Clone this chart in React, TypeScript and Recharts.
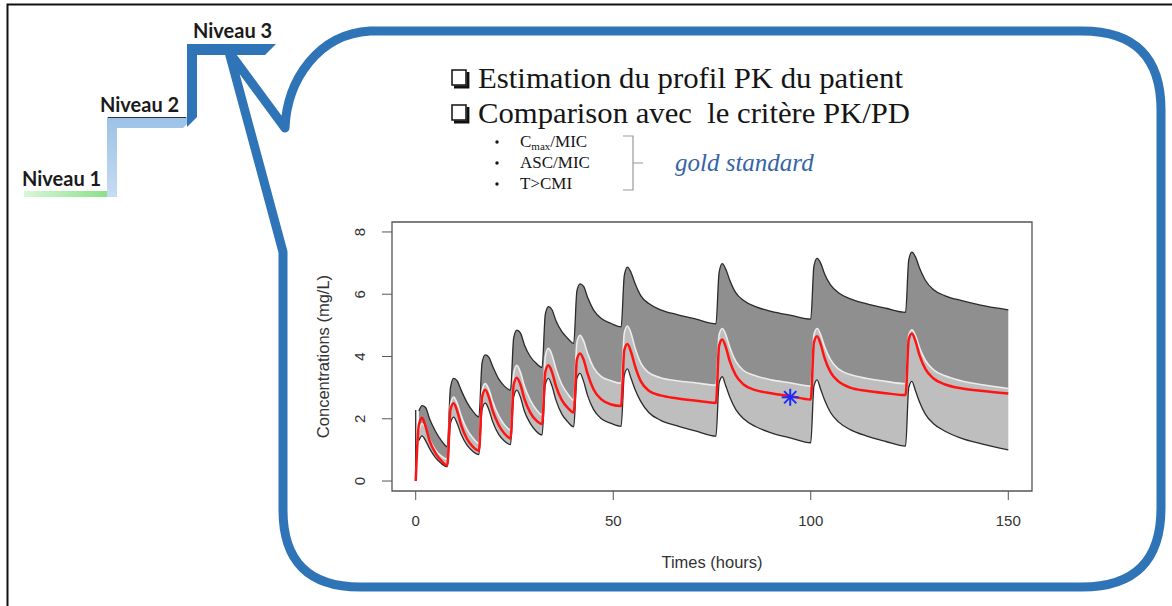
import React from 'react'
import { Area, ComposedChart, Line, ReferenceArea, Scatter, XAxis, YAxis } from 'recharts'

// sampling times (hours): doses at 0, 8, 16, 24, 32, 40, 52, 76, 100, 124
const times = [
  0, 0.8, 1.6, 2.5, 3.5, 5, 6.5,
  8, 8.8, 9.6, 10.5, 11.5, 13, 14.5,
  16, 16.8, 17.6, 18.5, 19.5, 21, 22.5,
  24, 24.8, 25.6, 26.5, 27.5, 29, 30.5,
  32, 32.8, 33.6, 34.5, 35.5, 37, 38.5,
  40, 40.8, 41.6, 42.5, 43.5, 45, 47, 49.5,
  52, 52.8, 53.6, 54.5, 55.5, 57, 59, 62, 66, 71,
  76, 76.8, 77.6, 78.5, 79.5, 81, 83, 86, 90, 95,
  100, 100.8, 101.6, 102.5, 103.5, 105, 107, 110, 114, 119,
  124, 124.8, 125.6, 126.5, 127.5, 129, 131, 134, 138, 143, 150,
]

const upperBound = [
  null, 2.25, 2.42, 2.36, 2.0, 1.6, 1.3,
  1.1, 3.0, 3.3, 3.22, 2.92, 2.52, 2.24,
  2.06, 3.8, 4.05, 3.98, 3.68, 3.28, 3.04,
  2.92, 4.6, 4.85, 4.76, 4.38, 4.0, 3.78,
  3.65, 5.35, 5.6, 5.5, 5.15, 4.8, 4.58,
  4.42, 6.1, 6.33, 6.25, 5.9, 5.5, 5.22, 5.06,
  4.95, 6.6, 6.87, 6.7, 6.35, 5.95, 5.7, 5.5, 5.35, 5.2,
  5.05, 6.7, 6.98, 6.8, 6.45, 6.05, 5.8, 5.6, 5.45, 5.32,
  5.2, 6.9, 7.15, 7.0, 6.65, 6.3, 6.05, 5.85, 5.7, 5.55,
  5.42, 7.1, 7.35, 7.2, 6.85, 6.45, 6.15, 5.95, 5.8, 5.65, 5.5,
]

const medianProfile = [
  null, 1.6, 1.85, 1.7, 1.35, 1.0, 0.8,
  0.7, 2.45, 2.7, 2.5, 2.1, 1.65, 1.38,
  1.21, 2.9, 3.13, 2.95, 2.55, 2.1, 1.8,
  1.64, 3.45, 3.72, 3.5, 3.05, 2.6, 2.3,
  2.12, 4.0, 4.26, 4.05, 3.6, 3.1, 2.8,
  2.6, 4.45, 4.68, 4.5, 4.1, 3.65, 3.35, 3.22,
  3.14, 4.75, 4.98, 4.75, 4.28, 3.78, 3.48, 3.32, 3.22, 3.15,
  3.08, 4.7, 4.9, 4.7, 4.3, 3.85, 3.55, 3.38, 3.25, 3.15,
  3.05, 4.7, 4.9, 4.7, 4.32, 3.9, 3.6, 3.42, 3.3, 3.2,
  3.13, 4.68, 4.86, 4.68, 4.3, 3.88, 3.58, 3.38, 3.22, 3.1, 2.97,
]

const lowerBound = [
  null, 1.3, 1.45, 1.3, 1.05, 0.75, 0.56,
  0.46, 1.85, 2.05, 1.85, 1.5, 1.15, 0.95,
  0.85, 2.3, 2.5, 2.3, 1.9, 1.5, 1.28,
  1.17, 2.7, 2.92, 2.7, 2.25, 1.85, 1.6,
  1.48, 3.1, 3.3, 3.05, 2.6, 2.15, 1.9,
  1.74, 3.3, 3.46, 3.2, 2.75, 2.3, 2.0, 1.85,
  1.76, 3.4, 3.6, 3.3, 2.95, 2.55, 2.2, 1.95, 1.78, 1.6,
  1.44, 3.15, 3.35, 3.05, 2.7, 2.3, 2.0, 1.75, 1.55, 1.38,
  1.23, 3.05, 3.25, 2.95, 2.6, 2.2, 1.9, 1.65, 1.45, 1.27,
  1.12, 3.0, 3.2, 2.9, 2.55, 2.15, 1.85, 1.6, 1.38, 1.2, 1.0,
]

const patientProfile = [
  0, 1.8, 2.03, 1.75, 1.3, 0.9, 0.65,
  0.5, 2.3, 2.5, 2.25, 1.8, 1.35, 1.1,
  0.97, 2.7, 2.93, 2.7, 2.25, 1.8, 1.52,
  1.37, 3.1, 3.32, 3.1, 2.65, 2.2, 1.95,
  1.83, 3.5, 3.72, 3.5, 3.05, 2.6, 2.35,
  2.2, 3.9, 4.1, 3.9, 3.45, 2.95, 2.62, 2.46,
  2.41, 4.2, 4.4, 4.15, 3.7, 3.2, 2.9, 2.75, 2.66, 2.58,
  2.51, 4.35, 4.55, 4.3, 3.85, 3.4, 3.1, 2.92, 2.82, 2.72,
  2.62, 4.45, 4.65, 4.4, 3.95, 3.5, 3.2, 3.0, 2.9, 2.82,
  2.76, 4.55, 4.74, 4.5, 4.05, 3.6, 3.3, 3.1, 2.98, 2.9, 2.81,
]

const observed = [{ t: 94.8, c: 2.69 }]
const infusionStart = [{ t: 0, c: 0.45 }, { t: 0, c: 2.28 }]

const xTicks = [0, 50, 100, 150]
const yTicks = [0, 2, 4, 6, 8]
const xDomain = [-6, 156]
const yDomain = [-0.32, 8.32]

const rows = times.map((t, i) => ({
  t,
  upper: upperBound[i],
  median: medianProfile[i],
  lower: lowerBound[i],
  patient: patientProfile[i],
  dark: upperBound[i] == null ? null : [medianProfile[i], upperBound[i]],
  light: lowerBound[i] == null ? null : [lowerBound[i], medianProfile[i]],
}))

const axisFont = "'Liberation Sans', Arial, sans-serif"

const XTick = ({ x, y, payload }: any) => (
  <text x={x} y={y} dy="0.35em" textAnchor="middle" fontFamily={axisFont} fontSize={15} fill="#333">
    {payload.value}
  </text>
)

const YTick = ({ x, y, payload }: any) => (
  <text
    x={x}
    y={y}
    dy="0.35em"
    textAnchor="middle"
    transform={`rotate(-90 ${x} ${y})`}
    fontFamily={axisFont}
    fontSize={15}
    fill="#333"
  >
    {payload.value}
  </text>
)

const Asterisk = ({ cx, cy }: any) => {
  const r = 8.5
  const d = r * 0.72
  return (
    <g stroke="#1d2cf5" strokeWidth={2}>
      <line x1={cx - r} y1={cy} x2={cx + r} y2={cy} />
      <line x1={cx} y1={cy - r} x2={cx} y2={cy + r} />
      <line x1={cx - d} y1={cy - d} x2={cx + d} y2={cy + d} />
      <line x1={cx - d} y1={cy + d} x2={cx + d} y2={cy - d} />
    </g>
  )
}

const PkChart = () => (
  <ComposedChart width={760} height={380} data={rows} margin={{ top: 12, right: 28, bottom: 0, left: 0 }}>
    <XAxis
      type="number"
      dataKey="t"
      domain={xDomain}
      ticks={xTicks}
      allowDataOverflow
      height={99}
      axisLine={false}
      tickSize={9}
      tickMargin={21}
      tickLine={{ stroke: '#555' }}
      tick={<XTick />}
      label={{
        content: ({ viewBox }: any) => (
          <text
            x={viewBox.x + viewBox.width / 2}
            y={viewBox.y + 77}
            textAnchor="middle"
            fontFamily={axisFont}
            fontSize={16.5}
            fill="#333"
          >
            Times (hours)
          </text>
        ),
      }}
    />
    <YAxis
      type="number"
      domain={yDomain}
      ticks={yTicks}
      allowDataOverflow
      width={92}
      axisLine={false}
      tickSize={10}
      tickMargin={22}
      tickLine={{ stroke: '#555' }}
      tick={<YTick />}
      label={{
        content: ({ viewBox }: any) => {
          const cx = viewBox.x + 23
          const cy = viewBox.y + viewBox.height / 2
          return (
            <text
              x={cx}
              y={cy}
              dy="0.35em"
              textAnchor="middle"
              transform={`rotate(-90 ${cx} ${cy})`}
              fontFamily={axisFont}
              fontSize={16.5}
              fill="#333"
            >
              Concentrations (mg/L)
            </text>
          )
        },
      }}
    />
    <Area type="monotone" dataKey="dark" stroke="none" fill="#8f8f8f" fillOpacity={1} isAnimationActive={false} />
    <Area type="monotone" dataKey="light" stroke="none" fill="#bebebe" fillOpacity={1} isAnimationActive={false} />
    <Line type="monotone" dataKey="upper" stroke="#2a2a2a" strokeWidth={1.3} dot={false} activeDot={false} isAnimationActive={false} />
    <Line type="monotone" dataKey="lower" stroke="#2a2a2a" strokeWidth={1.3} dot={false} activeDot={false} isAnimationActive={false} />
    <Line type="monotone" dataKey="median" stroke="#ececec" strokeWidth={1.6} dot={false} activeDot={false} isAnimationActive={false} />
    <Line data={infusionStart} type="linear" dataKey="c" stroke="#2a2a2a" strokeWidth={1.3} dot={false} activeDot={false} isAnimationActive={false} />
    <Line type="monotone" dataKey="patient" stroke="#ff1414" strokeWidth={2.5} dot={false} activeDot={false} isAnimationActive={false} />
    <Scatter data={observed} dataKey="c" shape={<Asterisk />} isAnimationActive={false} />
    <ReferenceArea
      x1={xDomain[0]}
      x2={xDomain[1]}
      y1={yDomain[0]}
      y2={yDomain[1]}
      fill="none"
      stroke="#555"
      strokeWidth={1.3}
      ifOverflow="visible"
    />
  </ComposedChart>
)

const CheckBox = ({ x, y }: { x: number; y: number }) => (
  <g fill="none" stroke="#111">
    <rect x={x} y={y} width={14} height={15} strokeWidth={1.5} />
    <path d={`M ${x + 16} ${y + 2} V ${y + 17} H ${x + 2}`} strokeWidth={2.8} />
  </g>
)

export default function App() {
  const serif = "'Liberation Serif', 'Times New Roman', serif"
  const label = "Lato, 'Open Sans', sans-serif"
  return (
    <div style={{ position: 'fixed', left: 0, top: 0, width: 1172, height: 606, background: '#fff', overflow: 'hidden' }}>
      <svg width={1172} height={606} style={{ position: 'absolute', left: 0, top: 0 }}>
        <defs>
          <linearGradient id="greenFade" x1="0" x2="1" y1="0" y2="0">
            <stop offset="0" stopColor="#d8f7d8" />
            <stop offset="1" stopColor="#86e086" />
          </linearGradient>
          <linearGradient id="blueFade" x1="0" x2="0" y1="0" y2="1">
            <stop offset="0" stopColor="#9cc2e6" />
            <stop offset="1" stopColor="#c6dcf2" />
          </linearGradient>
          <linearGradient id="sepFade" x1="0" x2="1" y1="0" y2="0">
            <stop offset="0" stopColor="#e6e6e6" />
            <stop offset="0.1" stopColor="#c4c4c4" />
            <stop offset="0.9" stopColor="#c4c4c4" />
            <stop offset="1" stopColor="#e6e6e6" />
          </linearGradient>
        </defs>

        <path d="M 7.5 606 V 4.5 H 1172" fill="none" stroke="#111" strokeWidth={2} />

        {/* staircase */}
        <rect x={24} y={191} width={86} height={6} fill="url(#greenFade)" />
        <polygon points="107,117 187,117 187,124 183,128 117,128 117,197 107,197" fill="url(#blueFade)" />
        <line x1={108} y1={117.5} x2={186} y2={117.5} stroke="#2b3340" strokeWidth={1} />
        <polygon points="187,44 276,44 265,55 197,55 197,117 187,127" fill="#2e74b6" />
        <g fontFamily={label} fontWeight={700} fontSize={20} fill="#1b1b1b">
          <text x={22} y={186}>Niveau 1</text>
          <text x={100} y={112}>Niveau 2</text>
          <text x={193} y={38}>Niveau 3</text>
        </g>

        {/* callout */}
        <path
          d="M 229 52 L 285 128 C 287 80 318 34 370 31 L 1082 31 Q 1161 31 1161 110 L 1161 508 Q 1161 587 1082 587 L 360 587 Q 283 587 283 510 L 283 252 Z"
          fill="none"
          stroke="#2e74b6"
          strokeWidth={9}
          strokeLinejoin="round"
        />

        {/* text block */}
        <g fontFamily={serif} fill="#151515">
          <CheckBox x={452} y={70} />
          <text x={478} y={88} fontSize={30} textLength={425} lengthAdjust="spacingAndGlyphs">
            Estimation du profil PK du patient
          </text>
          <CheckBox x={452} y={105} />
          <text x={478} y={123} fontSize={30} textLength={432} lengthAdjust="spacingAndGlyphs" style={{ whiteSpace: 'pre' }}>
            Comparison avec  le critère PK/PD
          </text>
          <circle cx={497} cy={142} r={1.7} />
          <circle cx={497} cy={163} r={1.7} />
          <circle cx={497} cy={184} r={1.7} />
          <text x={520} y={147} fontSize={17}>
            C<tspan fontSize={11} dy={3}>max</tspan>
            <tspan dy={-3}>/MIC</tspan>
          </text>
          <text x={520} y={168} fontSize={17}>ASC/MIC</text>
          <text x={520} y={189} fontSize={17}>T&gt;CMI</text>
          <path d="M 623 136 H 633 V 190 H 623 M 633 163 H 643" fill="none" stroke="#9a9a9a" strokeWidth={1.2} />
          <text x={675} y={171} fontSize={25} fontStyle="italic" fill="#3565a5">gold standard</text>
        </g>
        <line x1={298} y1={205} x2={1076} y2={205} stroke="url(#sepFade)" strokeWidth={2.5} />
      </svg>
      <div style={{ position: 'absolute', left: 300, top: 210 }}>
        <PkChart />
      </div>
    </div>
  )
}
